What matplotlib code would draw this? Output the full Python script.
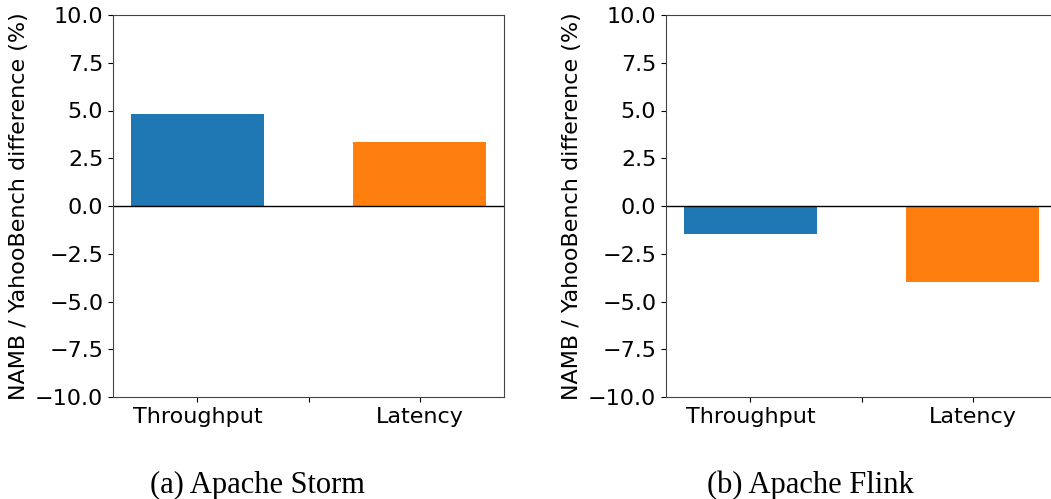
import matplotlib
matplotlib.use("Agg")
import matplotlib.pyplot as plt

metrics = ["Throughput", "Latency"]
storm_diff = [4.82, 3.33]
flink_diff = [-1.47, -3.96]
bar_colors = ["#1f77b4", "#ff7f0e"]
y_ticks = [-10.0, -7.5, -5.0, -2.5, 0.0, 2.5, 5.0, 7.5, 10.0]
captions = ["(a) Apache Storm", "(b) Apache Flink"]
ylabel = "NAMB / YahooBench difference (%)"

W, H = 1051, 499
fig = plt.figure(figsize=(W / 100, H / 100), dpi=100)

panels = [
    (113, storm_diff, captions[0], 257),
    (666, flink_diff, captions[1], 810),
]

for left_px, values, caption, cap_x in panels:
    ax = fig.add_axes([left_px / W, (H - 397) / H, 391 / W, 382 / H])
    pos = list(range(len(metrics)))
    ax.bar(pos, values, width=0.6, color=bar_colors)
    ax.axhline(0, color="black", linewidth=1.0)
    ax.set_ylim(-10, 10)
    ax.set_yticks(y_ticks)
    ax.set_xticks([0, 0.5, 1])
    ax.set_xticklabels([metrics[0], "", metrics[1]])
    ax.tick_params(labelsize=16)
    ax.set_ylabel(ylabel, fontsize=16)
    for sp in ax.spines.values():
        sp.set_color("#444444")
    fig.text(cap_x / W, 1 - 485 / H, caption, ha="center", va="center",
             fontsize=22, family="Liberation Serif")

fig.savefig("out.png", dpi=100)
